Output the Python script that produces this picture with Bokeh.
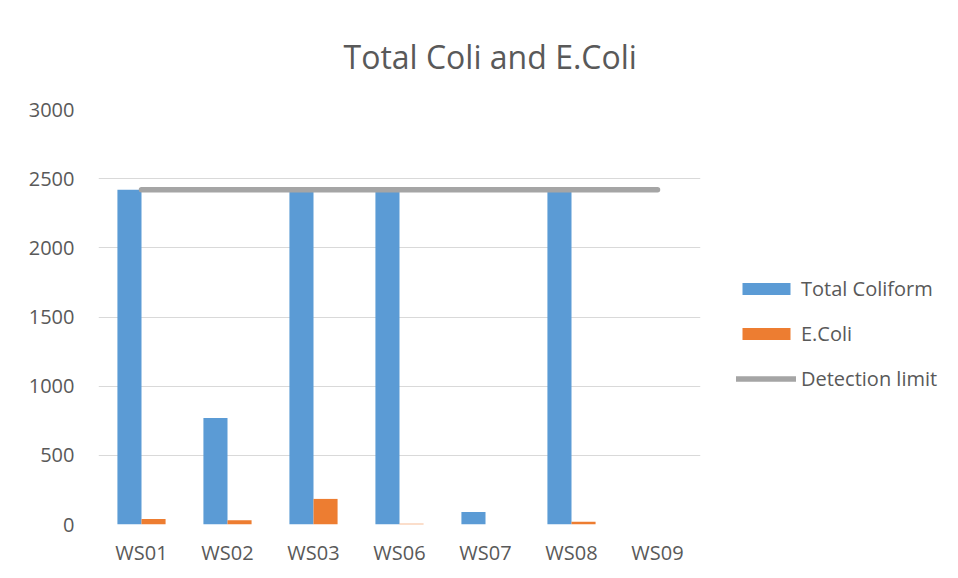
from bokeh.plotting import figure
from bokeh.models import ColumnDataSource, FixedTicker, Legend, LegendItem
from bokeh.transform import dodge
from bokeh.embed import file_html
from bokeh.resources import INLINE

# ---- data ----
categories = ["WS01", "WS02", "WS03", "WS06", "WS07", "WS08", "WS09"]
total_coliform = [2420, 770, 2420, 2420, 90, 2420, 0]
e_coli = [40, 30, 185, 6, 0, 20, 0]
detection_limit = [2420, 2420, 2420, 2420, 2420, 2420, 2420]
y_ticks = [0, 500, 1000, 1500, 2000, 2500, 3000]

FONT = "Open Sans"
TXT = "#595959"

src = ColumnDataSource(dict(cat=categories, tc=total_coliform, ec=e_coli, dl=detection_limit))

p = figure(x_range=categories, y_range=(0, 3000),
           width=950, height=574,
           frame_width=602, frame_height=415,
           min_border_left=98, min_border_right=250,
           min_border_top=109, min_border_bottom=50,
           output_backend="svg", toolbar_location=None)

p.outline_line_color = None
p.background_fill_color = "white"
p.border_fill_color = "white"

# title
p.title.text = "Total Coli and E.Coli"
p.title.align = "left"
p.title.offset = 245
p.title.text_font = FONT
p.title.text_font_size = "32px"
p.title.text_font_style = "normal"
p.title.text_color = TXT
p.title.standoff = 63

bw = 0.28
r_tc = p.vbar(x=dodge("cat", -bw / 2, range=p.x_range), top="tc", width=bw,
              source=src, fill_color="#5B9BD5", line_color=None)
r_ec = p.vbar(x=dodge("cat", bw / 2, range=p.x_range), top="ec", width=bw,
              source=src, fill_color="#ED7D31", line_color=None)
r_dl = p.line(x="cat", y="dl", source=src, line_color="#A5A5A5",
              line_width=5.5, line_cap="round")

# axes
p.yaxis.ticker = FixedTicker(ticks=y_ticks)
for ax in (p.xaxis[0], p.yaxis[0]):
    ax.axis_line_color = None
    ax.major_tick_line_color = None
    ax.minor_tick_line_color = None
    ax.major_label_text_font = FONT
    ax.major_label_text_font_size = "20px"
    ax.major_label_text_color = TXT
p.yaxis.major_label_standoff = 18
p.xaxis.major_label_standoff = 8

p.xgrid.grid_line_color = None
p.ygrid.grid_line_color = "#D9D9D9"
p.ygrid.grid_line_width = 1

legend = Legend(items=[
    LegendItem(label="Total Coliform", renderers=[r_tc]),
    LegendItem(label="E.Coli", renderers=[r_ec]),
    LegendItem(label="Detection limit", renderers=[r_dl]),
], location=(36, 132))
legend.glyph_width = 60
legend.glyph_height = 15
legend.label_standoff = 5
legend.padding = 0
legend.margin = 0
legend.spacing = 18
legend.border_line_color = None
legend.background_fill_alpha = 0
legend.label_text_font = FONT
legend.label_text_font_size = "20px"
legend.label_text_color = TXT
p.add_layout(legend, "right")

open("out.html", "w").write(file_html(p, INLINE))
